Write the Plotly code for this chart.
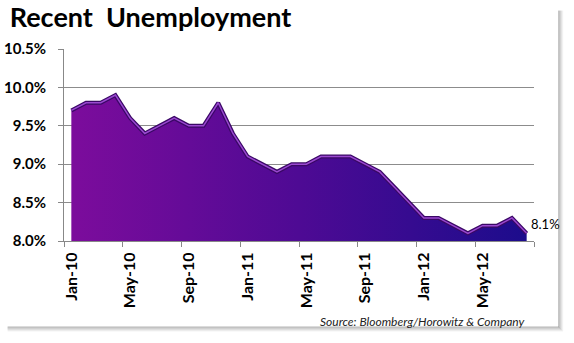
import plotly.graph_objects as go

months = ["Jan-10","Feb-10","Mar-10","Apr-10","May-10","Jun-10","Jul-10","Aug-10","Sep-10","Oct-10","Nov-10","Dec-10",
          "Jan-11","Feb-11","Mar-11","Apr-11","May-11","Jun-11","Jul-11","Aug-11","Sep-11","Oct-11","Nov-11","Dec-11",
          "Jan-12","Feb-12","Mar-12","Apr-12","May-12","Jun-12","Jul-12","Aug-12"]
unemployment = [9.7, 9.8, 9.8, 9.9, 9.6, 9.4, 9.5, 9.6, 9.5, 9.5, 9.8, 9.4,
                9.1, 9.0, 8.9, 9.0, 9.0, 9.1, 9.1, 9.1, 9.0, 8.9, 8.7, 8.5,
                8.3, 8.3, 8.2, 8.1, 8.2, 8.2, 8.3, 8.1]
y_ticks = [8.0, 8.5, 9.0, 9.5, 10.0, 10.5]
label_every = 4

idx = list(range(len(months)))
tick_idx = idx[::label_every]
tick_text = months[::label_every]

FONT = "Lato, Open Sans, sans-serif"

fig = go.Figure()
fig.add_trace(go.Scatter(
    x=idx, y=unemployment, mode="lines", fill="tozeroy",
    line=dict(color="#3a0866", width=4),
    fillgradient=dict(type="horizontal",
                      colorscale=[[0, "#7c0c9c"], [0.5, "#4e0a94"], [1, "#1c0c8c"]]),
    hoverinfo="skip", showlegend=False,
))
fig.add_trace(go.Scatter(
    x=idx, y=unemployment, mode="lines",
    line=dict(color="#9a48d0", width=1.5),
    hoverinfo="skip", showlegend=False,
))

fig.add_annotation(x=idx[-1], y=unemployment[-1], text=f"{unemployment[-1]:.1f}%",
                   showarrow=False, xanchor="left", yanchor="middle", xshift=2, yshift=9,
                   font=dict(family=FONT, size=13, color="#000"))

fig.add_annotation(xref="paper", yref="paper", x=0.985, y=-0.42, text="Source: Bloomberg/Horowitz & Company",
                   showarrow=False, xanchor="right", yanchor="middle",
                   font=dict(family=FONT, size=12, color="#222", style="italic"))

# panel shadow (decoration)
shapes = []
for i, op in enumerate([0.45, 0.35, 0.25, 0.15, 0.07]):
    shapes.append(dict(type="line", xref="paper", yref="paper",
                       x0=1.0526 + i*0.0021, x1=1.0526 + i*0.0021, y0=1.2, y1=-0.45 - i*0.005,
                       line=dict(color=f"rgba(90,90,90,{op})", width=1)))
    shapes.append(dict(type="line", xref="paper", yref="paper",
                       x0=-0.12, x1=1.0526 + i*0.0021, y0=-0.448 - i*0.0052, y1=-0.448 - i*0.0052,
                       line=dict(color=f"rgba(90,90,90,{op})", width=1)))

fig.update_layout(
    width=574, height=343,
    margin=dict(l=64, r=40, t=49, b=102),
    paper_bgcolor="white", plot_bgcolor="white",
    title=dict(text="Recent\u00a0\u00a0Unemployment", x=0.017, xanchor="left", y=0.975, yanchor="top",
               font=dict(family=FONT, size=27, color="#000", weight="bold")),
    xaxis=dict(range=[-0.5, len(months) - 0.5], tickvals=tick_idx, ticktext=tick_text,
               tickangle=-90, ticks="", showgrid=False, zeroline=False, automargin=False,
               showline=True, linecolor="#888", linewidth=1, ticklabelstandoff=4,
               tickfont=dict(family=FONT, size=16, color="#000", weight="bold"),
               minor=dict(tick0=-0.5, dtick=label_every, ticks="outside", ticklen=5,
                          tickcolor="#888", showgrid=False)),
    yaxis=dict(range=[y_ticks[0], y_ticks[-1]], tickvals=y_ticks,
               ticktext=[f"{v:.1f}%" for v in y_ticks], automargin=False,
               showgrid=True, gridcolor="#8c8c8c", gridwidth=1, zeroline=False,
               showline=True, linecolor="#888", linewidth=1, ticks="outside", ticklen=5,
               tickcolor="#888", ticklabelstandoff=9,
               tickfont=dict(family=FONT, size=15, color="#000", weight="bold")),
    shapes=shapes,
)

fig.write_html("out.html")
